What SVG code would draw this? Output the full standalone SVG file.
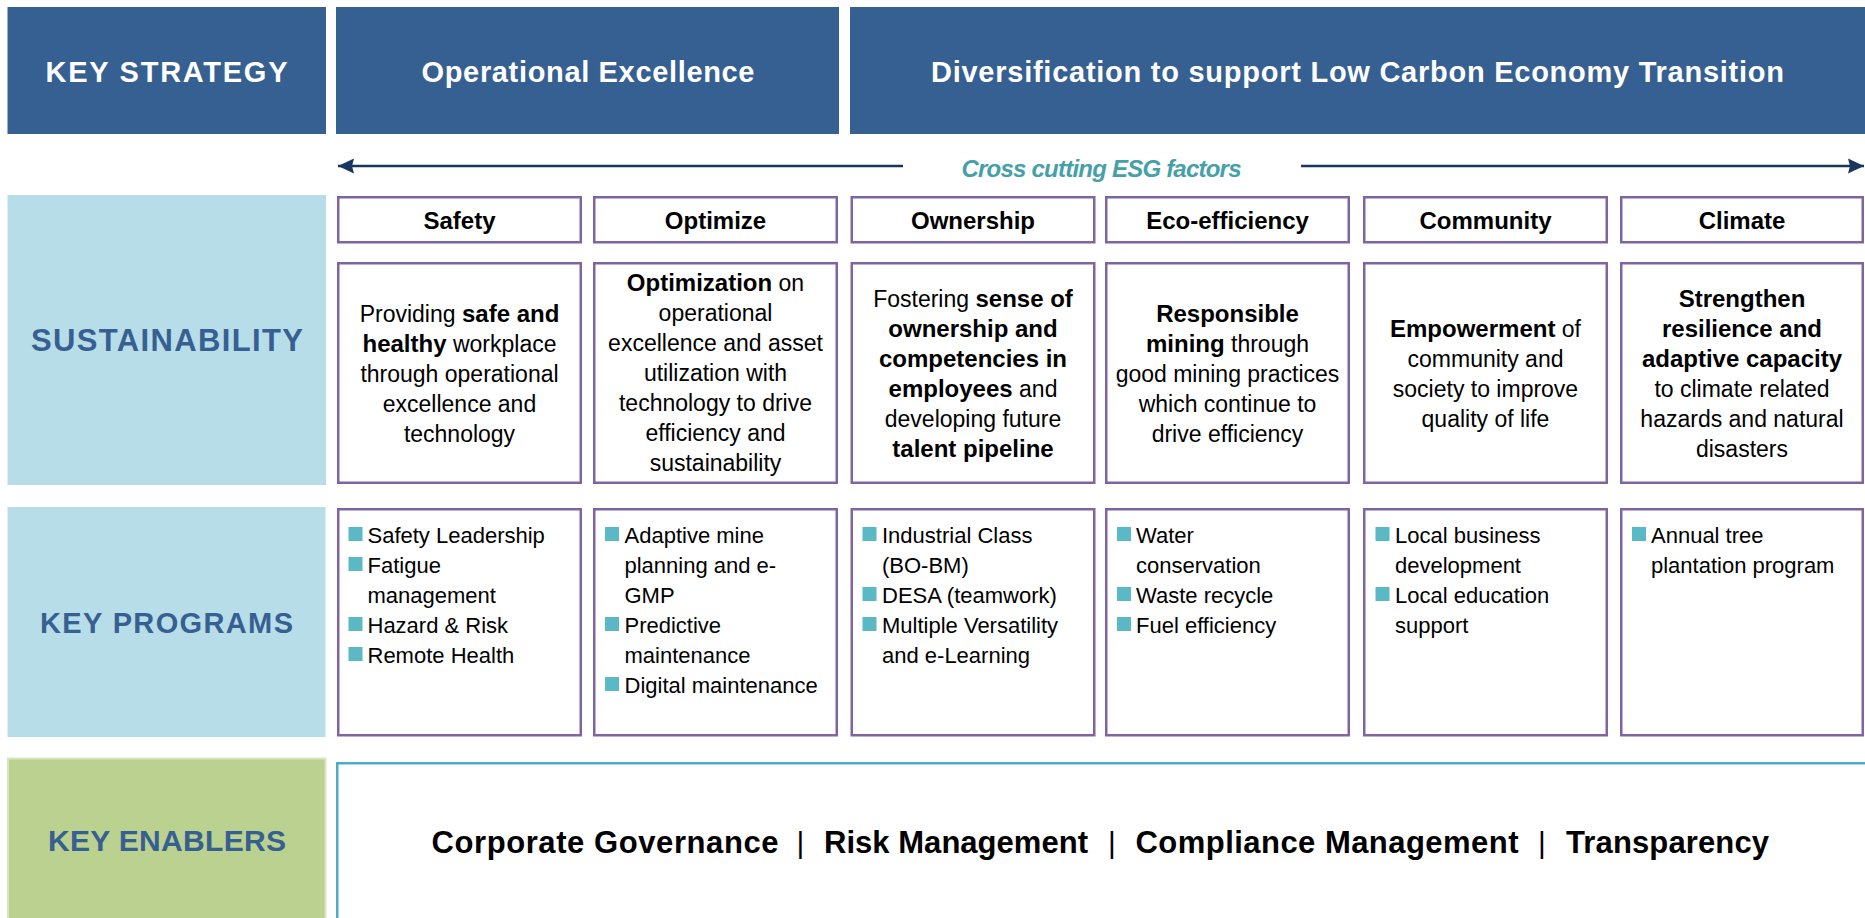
<svg xmlns="http://www.w3.org/2000/svg" xmlns:xlink="http://www.w3.org/1999/xlink" width="1865" height="918" viewBox="0 0 1865 918">
  <style>
    text { font-family: "Liberation Sans", Arial, sans-serif; }
    .hdr { fill: #376092; }
    .lbl { fill: #B7DDE8; }
    .grn { fill: #BBD18F; stroke: #D8E5BF; stroke-width: 2; }
    .box { fill: #ffffff; stroke: #8064A2; stroke-width: 2.5; }
    .enb { fill: #ffffff; stroke: #4BACC6; stroke-width: 2.5; }
    .ht { font-size: 29px; font-weight: bold; fill: #ffffff; text-anchor: middle; }
    .lt { font-weight: bold; fill: #376092; text-anchor: middle; }
    .ct { font-size: 24px; font-weight: bold; fill: #000000; text-anchor: middle; }
    .dt { font-size: 23px; fill: #000000; text-anchor: middle; }
    .b { font-weight: bold; font-size: 24px; }
    .pt { font-size: 22px; fill: #000000; }
    .bul { fill: #5AB9C4; }
    .esg { font-size: 24px; font-weight: bold; font-style: italic; fill: #45A0A8; text-anchor: middle; }
    .en { font-size: 31px; font-weight: bold; fill: #000000; }
    .pipe { font-size: 30px; fill: #000000; text-anchor: middle; }
    .conn { fill: none; stroke: #17375E; stroke-width: 2.5; }
  </style>
  <defs>
    <marker id="arrow" markerUnits="userSpaceOnUse" markerWidth="17" markerHeight="16" refX="16" refY="8" orient="auto">
      <path d="M0,0.5 L16,8 L0,15.5 L2,8 z" fill="#17375E"/>
    </marker>
    <rect id="sq" width="14" height="14" class="bul"/>
  </defs>

  <!-- strategy row -->
  <g id="key-strategy">
    <rect class="hdr" x="7.5" y="7" width="318.5" height="127"/>
    <text class="ht" x="166.5" y="82" textLength="242">KEY STRATEGY</text>
  </g>
  <g id="operational-excellence">
    <rect class="hdr" x="336" y="7" width="503" height="127"/>
    <text class="ht" x="588" y="82" textLength="333">Operational Excellence</text>
  </g>
  <g id="diversification">
    <rect class="hdr" x="850" y="7" width="1015" height="127"/>
    <text class="ht" x="1357.5" y="82" textLength="853">Diversification to support Low Carbon Economy Transition</text>
  </g>

  <!-- cross cutting arrows -->
  <g id="connectors">
    <path class="conn" d="M903,166 L338,166" marker-end="url(#arrow)"/>
    <path class="conn" d="M1301,166 L1864,166" marker-end="url(#arrow)"/>
  </g>
  <g id="esg-label">
    <text class="esg" x="1101.5" y="177" textLength="280">Cross cutting ESG factors</text>
  </g>

  <!-- sustainability row -->
  <g id="sustainability">
    <rect class="lbl" x="7.5" y="195" width="318.5" height="290"/>
    <text class="lt" x="167" y="351" font-size="31" textLength="272">SUSTAINABILITY</text>
  </g>

  <g id="safety">
    <rect class="box" x="338.25" y="197.25" width="242.5" height="45"/>
    <text class="ct" x="459.5" y="229">Safety</text>
    <rect class="box" x="338.25" y="263.25" width="242.5" height="219.5"/>
    <text class="dt" x="459.5" y="322">Providing <tspan class="b">safe and</tspan></text>
    <text class="dt" x="459.5" y="352"><tspan class="b">healthy</tspan> workplace</text>
    <text class="dt" x="459.5" y="382">through operational</text>
    <text class="dt" x="459.5" y="412">excellence and</text>
    <text class="dt" x="459.5" y="442">technology</text>
  </g>

  <g id="optimize">
    <rect class="box" x="594.25" y="197.25" width="242.5" height="45"/>
    <text class="ct" x="715.5" y="229">Optimize</text>
    <rect class="box" x="594.25" y="263.25" width="242.5" height="219.5"/>
    <text class="dt" x="715.5" y="291"><tspan class="b">Optimization</tspan> on</text>
    <text class="dt" x="715.5" y="321">operational</text>
    <text class="dt" x="715.5" y="351">excellence and asset</text>
    <text class="dt" x="715.5" y="381">utilization with</text>
    <text class="dt" x="715.5" y="411">technology to drive</text>
    <text class="dt" x="715.5" y="441">efficiency and</text>
    <text class="dt" x="715.5" y="471">sustainability</text>
  </g>

  <g id="ownership">
    <rect class="box" x="851.75" y="197.25" width="242.5" height="45"/>
    <text class="ct" x="973" y="229">Ownership</text>
    <rect class="box" x="851.75" y="263.25" width="242.5" height="219.5"/>
    <text class="dt" x="973" y="307">Fostering <tspan class="b">sense of</tspan></text>
    <text class="dt" x="973" y="337"><tspan class="b">ownership and</tspan></text>
    <text class="dt" x="973" y="367"><tspan class="b">competencies in</tspan></text>
    <text class="dt" x="973" y="397"><tspan class="b">employees</tspan> and</text>
    <text class="dt" x="973" y="427">developing future</text>
    <text class="dt" x="973" y="457"><tspan class="b">talent pipeline</tspan></text>
  </g>

  <g id="eco-efficiency">
    <rect class="box" x="1106.25" y="197.25" width="242.5" height="45"/>
    <text class="ct" x="1227.5" y="229">Eco-efficiency</text>
    <rect class="box" x="1106.25" y="263.25" width="242.5" height="219.5"/>
    <text class="dt" x="1227.5" y="322"><tspan class="b">Responsible</tspan></text>
    <text class="dt" x="1227.5" y="352"><tspan class="b">mining</tspan> through</text>
    <text class="dt" x="1227.5" y="382">good mining practices</text>
    <text class="dt" x="1227.5" y="412">which continue to</text>
    <text class="dt" x="1227.5" y="442">drive efficiency</text>
  </g>

  <g id="community">
    <rect class="box" x="1364.25" y="197.25" width="242.5" height="45"/>
    <text class="ct" x="1485.5" y="229">Community</text>
    <rect class="box" x="1364.25" y="263.25" width="242.5" height="219.5"/>
    <text class="dt" x="1485.5" y="337"><tspan class="b">Empowerment</tspan> of</text>
    <text class="dt" x="1485.5" y="367">community and</text>
    <text class="dt" x="1485.5" y="397">society to improve</text>
    <text class="dt" x="1485.5" y="427">quality of life</text>
  </g>

  <g id="climate">
    <rect class="box" x="1621.25" y="197.25" width="241.5" height="45"/>
    <text class="ct" x="1742" y="229">Climate</text>
    <rect class="box" x="1621.25" y="263.25" width="241.5" height="219.5"/>
    <text class="dt" x="1742" y="307"><tspan class="b">Strengthen</tspan></text>
    <text class="dt" x="1742" y="337"><tspan class="b">resilience and</tspan></text>
    <text class="dt" x="1742" y="367"><tspan class="b">adaptive capacity</tspan></text>
    <text class="dt" x="1742" y="397">to climate related</text>
    <text class="dt" x="1742" y="427">hazards and natural</text>
    <text class="dt" x="1742" y="457">disasters</text>
  </g>

  <!-- key programs row -->
  <g id="key-programs">
    <rect class="lbl" x="7.5" y="507" width="318" height="230"/>
    <text class="lt" x="166.5" y="633" font-size="29" textLength="253">KEY PROGRAMS</text>
  </g>

  <g id="programs-safety">
    <rect class="box" x="338.25" y="509.25" width="242.5" height="226"/>
    <use xlink:href="#sq" x="348.5" y="527"/>
    <text class="pt" x="367.5" y="543">Safety Leadership</text>
    <use xlink:href="#sq" x="348.5" y="557"/>
    <text class="pt" x="367.5" y="573">Fatigue</text>
    <text class="pt" x="367.5" y="603">management</text>
    <use xlink:href="#sq" x="348.5" y="617"/>
    <text class="pt" x="367.5" y="633">Hazard &amp; Risk</text>
    <use xlink:href="#sq" x="348.5" y="647"/>
    <text class="pt" x="367.5" y="663">Remote Health</text>
  </g>

  <g id="programs-optimize">
    <rect class="box" x="594.25" y="509.25" width="242.5" height="226"/>
    <use xlink:href="#sq" x="605" y="527"/>
    <text class="pt" x="624.5" y="543">Adaptive mine</text>
    <text class="pt" x="624.5" y="573">planning and e-</text>
    <text class="pt" x="624.5" y="603">GMP</text>
    <use xlink:href="#sq" x="605" y="617"/>
    <text class="pt" x="624.5" y="633">Predictive</text>
    <text class="pt" x="624.5" y="663">maintenance</text>
    <use xlink:href="#sq" x="605" y="677"/>
    <text class="pt" x="624.5" y="693">Digital maintenance</text>
  </g>

  <g id="programs-ownership">
    <rect class="box" x="851.75" y="509.25" width="242.5" height="226"/>
    <use xlink:href="#sq" x="862.5" y="527"/>
    <text class="pt" x="882" y="543">Industrial Class</text>
    <text class="pt" x="882" y="573">(BO-BM)</text>
    <use xlink:href="#sq" x="862.5" y="587"/>
    <text class="pt" x="882" y="603">DESA (teamwork)</text>
    <use xlink:href="#sq" x="862.5" y="617"/>
    <text class="pt" x="882" y="633">Multiple Versatility</text>
    <text class="pt" x="882" y="663">and e-Learning</text>
  </g>

  <g id="programs-eco-efficiency">
    <rect class="box" x="1106.25" y="509.25" width="242.5" height="226"/>
    <use xlink:href="#sq" x="1117" y="527"/>
    <text class="pt" x="1136" y="543">Water</text>
    <text class="pt" x="1136" y="573">conservation</text>
    <use xlink:href="#sq" x="1117" y="587"/>
    <text class="pt" x="1136" y="603">Waste recycle</text>
    <use xlink:href="#sq" x="1117" y="617"/>
    <text class="pt" x="1136" y="633">Fuel efficiency</text>
  </g>

  <g id="programs-community">
    <rect class="box" x="1364.25" y="509.25" width="242.5" height="226"/>
    <use xlink:href="#sq" x="1375.5" y="527"/>
    <text class="pt" x="1395" y="543">Local business</text>
    <text class="pt" x="1395" y="573">development</text>
    <use xlink:href="#sq" x="1375.5" y="587"/>
    <text class="pt" x="1395" y="603">Local education</text>
    <text class="pt" x="1395" y="633">support</text>
  </g>

  <g id="programs-climate">
    <rect class="box" x="1621.25" y="509.25" width="241.5" height="226"/>
    <use xlink:href="#sq" x="1632" y="527"/>
    <text class="pt" x="1651" y="543">Annual tree</text>
    <text class="pt" x="1651" y="573">plantation program</text>
  </g>

  <!-- key enablers row -->
  <g id="key-enablers">
    <rect class="grn" x="8" y="758.5" width="317.5" height="170"/>
    <text class="lt" x="167" y="851" font-size="30" textLength="238">KEY ENABLERS</text>
  </g>

  <g id="enablers">
    <rect class="enb" x="337.25" y="763.25" width="1540" height="170"/>
    <text class="en" x="431.5" y="853" textLength="347">Corporate Governance</text>
    <text class="pipe" x="800.5" y="853">|</text>
    <text class="en" x="824" y="853" textLength="264">Risk Management</text>
    <text class="pipe" x="1112" y="853">|</text>
    <text class="en" x="1135.5" y="853" textLength="383">Compliance Management</text>
    <text class="pipe" x="1542" y="853">|</text>
    <text class="en" x="1566" y="853" textLength="203">Transparency</text>
  </g>
</svg>
